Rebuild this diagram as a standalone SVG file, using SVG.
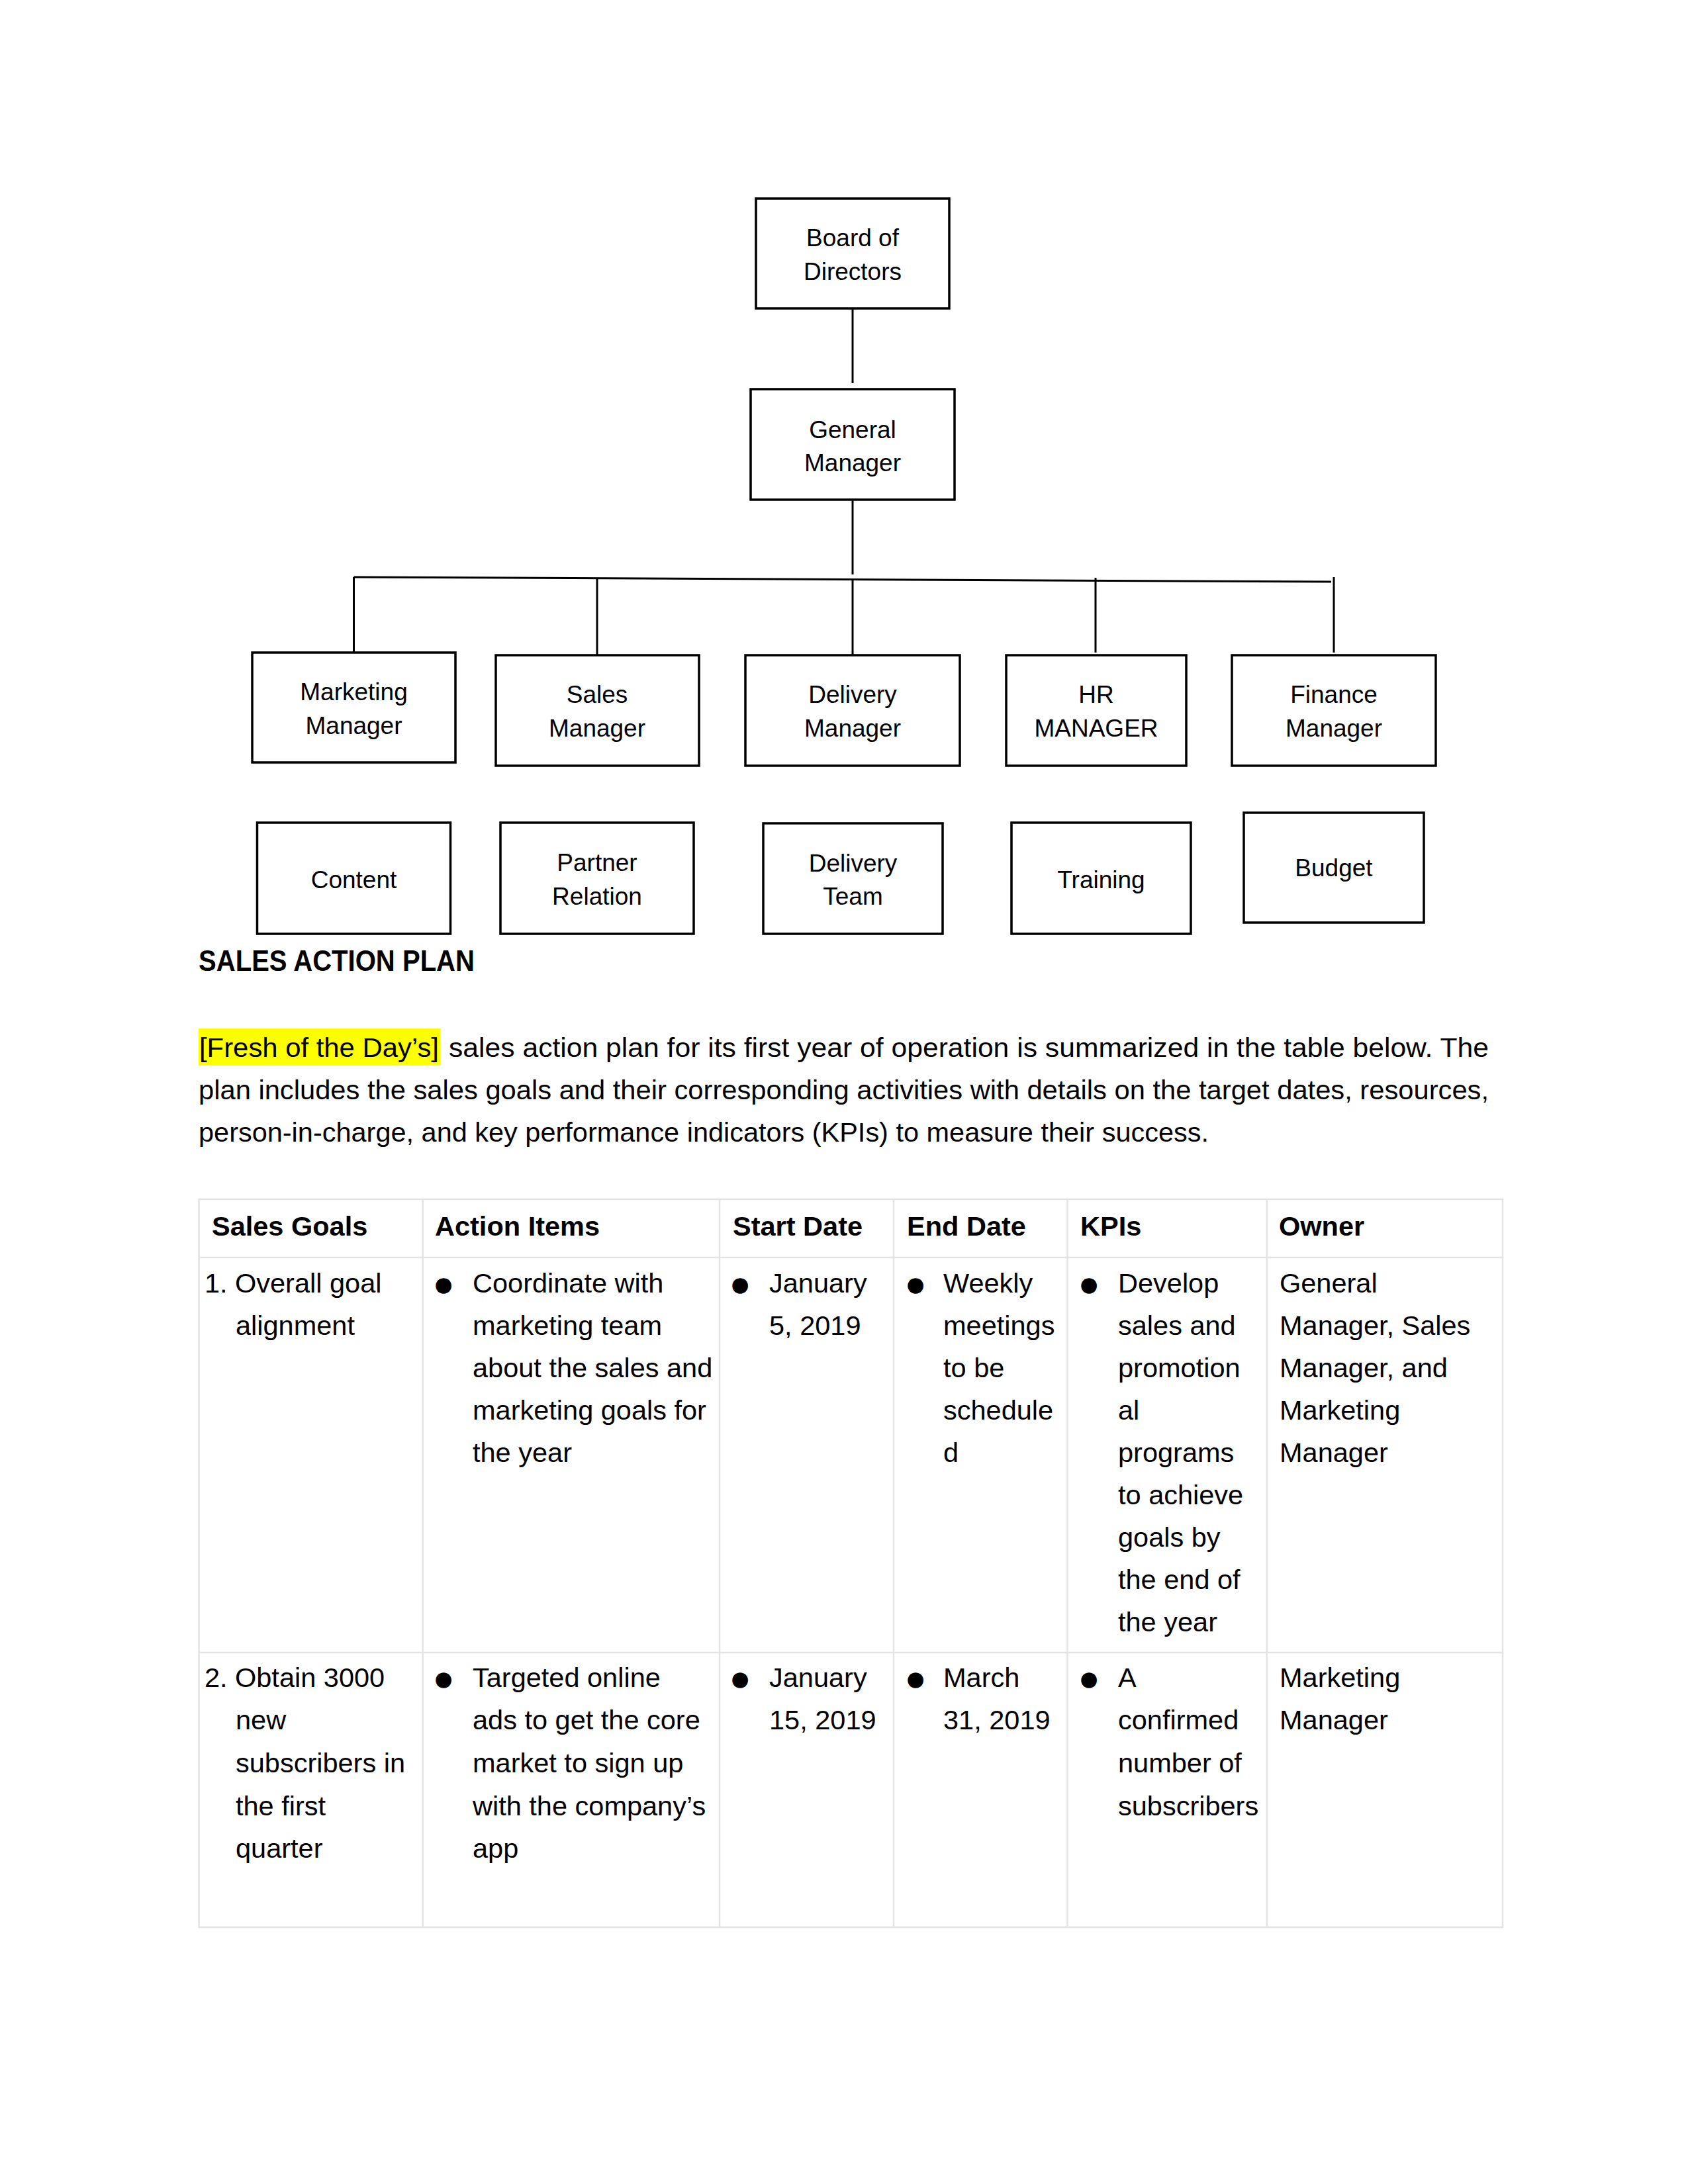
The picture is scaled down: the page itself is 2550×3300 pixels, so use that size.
<svg xmlns="http://www.w3.org/2000/svg" width="2550" height="3300" viewBox="0 0 2550 3300">
<style>
.box{fill:#fff;stroke:#000;stroke-width:3.5}
.lbl{font-family:'Liberation Sans',Arial,sans-serif;font-size:37px;text-anchor:middle;fill:#000}
.conn{stroke:#000;stroke-width:3;fill:none}
.t{font-family:'Liberation Sans',Arial,sans-serif;font-size:41.5px;fill:#000}
.b{font-weight:bold}
.grid{stroke:#e4e4e4;stroke-width:2.5;fill:none}
.bul{font-family:'DejaVu Sans',sans-serif;font-size:31px;text-anchor:middle;fill:#000}
</style>
<rect x="0" y="0" width="2550" height="3300" fill="#fff"/>
<g id="connectors">
<line class="conn" x1="1288" y1="466" x2="1288" y2="579"/>
<line class="conn" x1="1288" y1="755" x2="1288" y2="868"/>
<line class="conn" x1="534.5" y1="872" x2="2011" y2="879"/>
<line class="conn" x1="534.5" y1="872" x2="534.5" y2="986"/>
<line class="conn" x1="902" y1="873" x2="902" y2="990"/>
<line class="conn" x1="1288" y1="877" x2="1288" y2="990"/>
<line class="conn" x1="1655" y1="873" x2="1655" y2="986"/>
<line class="conn" x1="2015" y1="872" x2="2015" y2="986"/>
</g>
<g id="board"><rect class="box" x="1142" y="300" width="292" height="166"/><text class="lbl" x="1288" y="372">Board of</text><text class="lbl" x="1288" y="423">Directors</text></g>
<g id="gm"><rect class="box" x="1134" y="588" width="308" height="167"/><text class="lbl" x="1288" y="662">General</text><text class="lbl" x="1288" y="712">Manager</text></g>
<g id="marketing"><rect class="box" x="381" y="986" width="307" height="166"/><text class="lbl" x="534.5" y="1058">Marketing</text><text class="lbl" x="534.5" y="1109">Manager</text></g>
<g id="sales"><rect class="box" x="749" y="990" width="307" height="167"/><text class="lbl" x="902" y="1062">Sales</text><text class="lbl" x="902" y="1113">Manager</text></g>
<g id="delivery"><rect class="box" x="1126" y="990" width="324" height="167"/><text class="lbl" x="1288" y="1062">Delivery</text><text class="lbl" x="1288" y="1113">Manager</text></g>
<g id="hr"><rect class="box" x="1520" y="990" width="272" height="167"/><text class="lbl" x="1656" y="1062">HR</text><text class="lbl" x="1656" y="1113">MANAGER</text></g>
<g id="finance"><rect class="box" x="1861" y="990" width="308" height="167"/><text class="lbl" x="2015" y="1062">Finance</text><text class="lbl" x="2015" y="1113">Manager</text></g>
<g id="content"><rect class="box" x="388.5" y="1243" width="292" height="168"/><text class="lbl" x="534.5" y="1342">Content</text></g>
<g id="partner"><rect class="box" x="756" y="1243" width="292" height="168"/><text class="lbl" x="902" y="1316">Partner</text><text class="lbl" x="902" y="1367">Relation</text></g>
<g id="deliveryteam"><rect class="box" x="1153" y="1244" width="271" height="167"/><text class="lbl" x="1288.5" y="1317">Delivery</text><text class="lbl" x="1288.5" y="1367">Team</text></g>
<g id="training"><rect class="box" x="1528" y="1243" width="271" height="168"/><text class="lbl" x="1663.5" y="1342">Training</text></g>
<g id="budget"><rect class="box" x="1879" y="1228" width="272" height="166"/><text class="lbl" x="2015" y="1324">Budget</text></g>

<g id="heading"><text class="t b" x="300" y="1467" textLength="417" lengthAdjust="spacingAndGlyphs" style="font-size:44px">SALES ACTION PLAN</text></g>
<g id="paragraph">
<rect x="300" y="1554" width="365" height="56" fill="#ffff00"/>
<text class="t" x="301" y="1597" textLength="362" lengthAdjust="spacingAndGlyphs">[Fresh of the Day’s]</text>
<text class="t" x="678" y="1597" textLength="1571" lengthAdjust="spacingAndGlyphs">sales action plan for its first year of operation is summarized in the table below. The</text>
<text class="t" x="300" y="1661" textLength="1949" lengthAdjust="spacingAndGlyphs">plan includes the sales goals and their corresponding activities with details on the target dates, resources,</text>
<text class="t" x="300" y="1725" textLength="1526" lengthAdjust="spacingAndGlyphs">person-in-charge, and key performance indicators (KPIs) to measure their success.</text>
</g>
<g id="table">
<rect class="grid" x="300.5" y="1812" width="1969.5" height="1100"/>
<line class="grid" x1="300.5" y1="1900" x2="2270" y2="1900"/>
<line class="grid" x1="300.5" y1="2497" x2="2270" y2="2497"/>
<line class="grid" x1="638.7" y1="1812" x2="638.7" y2="2912"/>
<line class="grid" x1="1087" y1="1812" x2="1087" y2="2912"/>
<line class="grid" x1="1350" y1="1812" x2="1350" y2="2912"/>
<line class="grid" x1="1612.5" y1="1812" x2="1612.5" y2="2912"/>
<line class="grid" x1="1913.7" y1="1812" x2="1913.7" y2="2912"/>
<g class="t b">
<text x="320" y="1867">Sales Goals</text>
<text x="657" y="1867">Action Items</text>
<text x="1107" y="1867">Start Date</text>
<text x="1370" y="1867">End Date</text>
<text x="1632" y="1867">KPIs</text>
<text x="1932" y="1867">Owner</text>
</g>
<g class="t">
<text x="309" y="1953">1.</text>
<text x="355" y="1953">Overall goal</text>
<text x="356" y="2017">alignment</text>
<text x="714" y="1953">Coordinate with</text>
<text x="714" y="2017">marketing team</text>
<text x="714" y="2081">about the sales and</text>
<text x="714" y="2145">marketing goals for</text>
<text x="714" y="2209">the year</text>
<text x="1162" y="1953">January</text>
<text x="1162" y="2017">5, 2019</text>
<text x="1425" y="1953">Weekly</text>
<text x="1425" y="2017">meetings</text>
<text x="1425" y="2081">to be</text>
<text x="1425" y="2145">schedule</text>
<text x="1425" y="2209">d</text>
<text x="1689" y="1953">Develop</text>
<text x="1689" y="2017">sales and</text>
<text x="1689" y="2081">promotion</text>
<text x="1689" y="2145">al</text>
<text x="1689" y="2209">programs</text>
<text x="1689" y="2273">to achieve</text>
<text x="1689" y="2337">goals by</text>
<text x="1689" y="2401">the end of</text>
<text x="1689" y="2465">the year</text>
<text x="1933" y="1953">General</text>
<text x="1933" y="2017">Manager, Sales</text>
<text x="1933" y="2081">Manager, and</text>
<text x="1933" y="2145">Marketing</text>
<text x="1933" y="2209">Manager</text>
<text x="309" y="2549">2.</text>
<text x="355" y="2549">Obtain 3000</text>
<text x="356" y="2613">new</text>
<text x="356" y="2678">subscribers in</text>
<text x="356" y="2743">the first</text>
<text x="356" y="2807">quarter</text>
<text x="714" y="2549">Targeted online</text>
<text x="714" y="2613">ads to get the core</text>
<text x="714" y="2678">market to sign up</text>
<text x="714" y="2743">with the company’s</text>
<text x="714" y="2807">app</text>
<text x="1162" y="2549">January</text>
<text x="1162" y="2613">15, 2019</text>
<text x="1425" y="2549">March</text>
<text x="1425" y="2613">31, 2019</text>
<text x="1689" y="2549">A</text>
<text x="1689" y="2613">confirmed</text>
<text x="1689" y="2678">number of</text>
<text x="1689" y="2743">subscribers</text>
<text x="1933" y="2549">Marketing</text>
<text x="1933" y="2613">Manager</text>
</g>
<g class="bul">
<text x="670" y="1951">●</text>
<text x="1118" y="1951">●</text>
<text x="1383" y="1951">●</text>
<text x="1645" y="1951">●</text>
<text x="670" y="2547">●</text>
<text x="1118" y="2547">●</text>
<text x="1383" y="2547">●</text>
<text x="1645" y="2547">●</text>
</g>
</g>
</svg>
